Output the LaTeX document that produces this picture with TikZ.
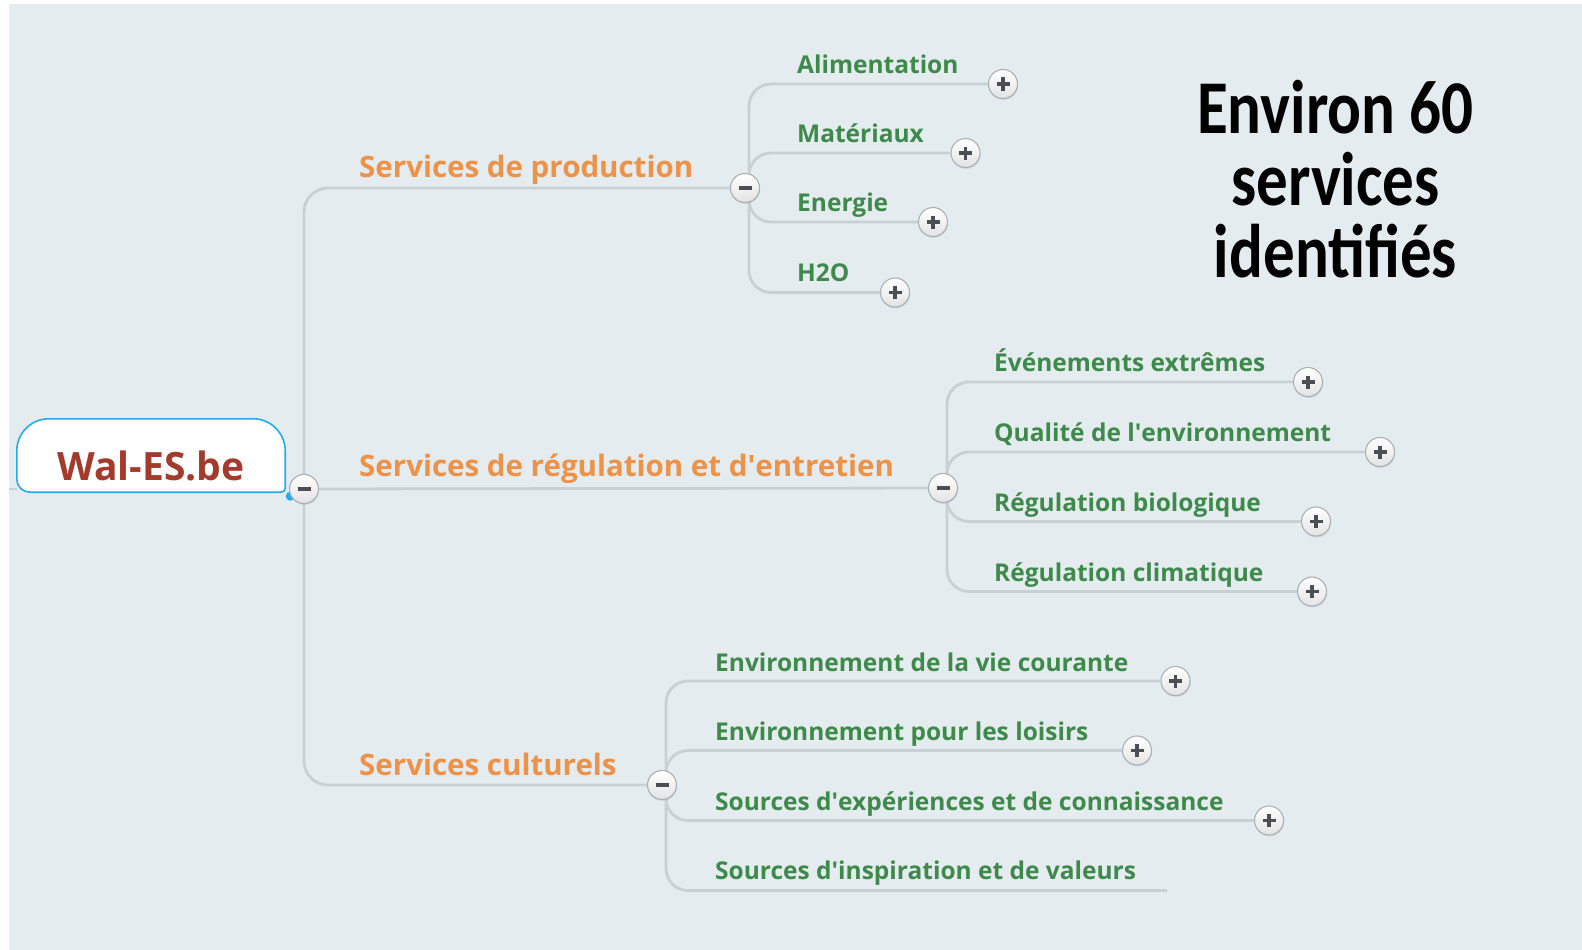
\documentclass[tikz,border=0pt]{standalone}
\usepackage{fontspec}
\setmainfont{Open Sans}
\newfontfamily\headfont{Carlito}[FakeStretch=0.83]
\usetikzlibrary{positioning, shadows}

\definecolor{MapBack}{RGB}{228,236,240}
\definecolor{LinkGrey}{RGB}{201,208,212}
\definecolor{BranchOrange}{RGB}{238,146,72}
\definecolor{LeafGreen}{RGB}{62,138,74}
\definecolor{RootRed}{RGB}{163,58,44}
\definecolor{RootBlue}{RGB}{38,170,238}
\definecolor{KnobEdge}{RGB}{170,176,180}
\definecolor{KnobSign}{RGB}{75,79,84}

\pgfdeclarelayer{back}
\pgfdeclarelayer{links}
\pgfsetlayers{back,links,main}

\newcommand{\apos}{\textquotesingle}

\begin{document}
\begin{tikzpicture}[
        x=1pt, y=-1pt,
        link/.style={draw=LinkGrey, line width=2.8pt},
        fan/.style={link, rounded corners=22pt},
        rootbox/.style={minimum width=268pt, minimum height=73pt, inner sep=0pt, text height=50pt, text=RootRed, font=\bfseries\fontsize{39}{44}\selectfont},
        rootframe/.style={draw=RootBlue, fill=white, line width=1.6pt},
        branch/.style={anchor=base west, inner sep=0pt, text=BranchOrange, font=\bfseries\fontsize{29.5}{34}\selectfont},
        leaf/.style={anchor=base west, inner sep=0pt, text=LeafGreen, font=\bfseries\fontsize{24.5}{29}\selectfont},
        knob/.style={circle, draw=KnobEdge, line width=1.1pt, minimum size=29pt, inner sep=0pt, top color=white, bottom color=gray!22, drop shadow={opacity=0.2, shadow xshift=0.6pt, shadow yshift=-1.4pt}},
        plus/.style={knob, path picture={\draw[KnobSign, line width=3.4pt] ([xshift=-6.5pt]path picture bounding box.center) -- ([xshift=6.5pt]path picture bounding box.center) ([yshift=-6.5pt]path picture bounding box.center) -- ([yshift=6.5pt]path picture bounding box.center);}},
        minus/.style={knob, path picture={\draw[KnobSign, line width=3.4pt] ([xshift=-6.5pt]path picture bounding box.center) -- ([xshift=6.5pt]path picture bounding box.center);}},
        headline/.style={anchor=base, inner sep=0pt, font=\headfont\bfseries\fontsize{76}{80}\selectfont}
    ]
        \useasboundingbox (0,0) rectangle (1582,950);

        % root and its knob
        \node[rootbox] (root) at (151,455.5) {Wal-ES.be};
        \coordinate (edge) at (9,489);
        \node[minus] (c0) at (304,489) {};

        % main branches
        \node[minus] (tgP) at (745,188) {};
        \node[branch] (prod) at (359,177) {Services de production};
        \node[minus] (tgR) at (943,488) {};
        \node[branch] (regul) at (359,476) {Services de régulation et d\apos entretien};
        \node[minus] (tgC) at (662,785) {};
        \node[branch] (cult) at (359,775) {Services culturels};

        % production
        \node[plus] (pAlim) at (1003,84) {};
        \node[leaf] (alim) at (797,73.5) {Alimentation};
        \node[plus] (pMat) at (965.5,153) {};
        \node[leaf] (mat) at (797,142) {Matériaux};
        \node[plus] (pEner) at (933,222) {};
        \node[leaf] (ener) at (797,211.5) {Energie};
        \node[plus] (pEau) at (895,292.5) {};
        \node[leaf] (eau) at (797,281.5) {H2O};

        % regulation
        \node[plus] (pExt) at (1308,382) {};
        \node[leaf] (ext) at (994,371) {Événements extrêmes};
        \node[plus] (pQual) at (1380,452) {};
        \node[leaf] (qual) at (994,441) {Qualité de l\apos environnement};
        \node[plus] (pBio) at (1316,521.5) {};
        \node[leaf] (bio) at (994,511) {Régulation biologique};
        \node[plus] (pClim) at (1312,591.5) {};
        \node[leaf] (clim) at (994,581) {Régulation climatique};

        % culture
        \node[plus] (pVie) at (1175.5,681) {};
        \node[leaf] (vie) at (715,671) {Environnement de la vie courante};
        \node[plus] (pLois) at (1137,750.5) {};
        \node[leaf] (lois) at (715,740.5) {Environnement pour les loisirs};
        \node[plus] (pExp) at (1269,820.5) {};
        \node[leaf] (exp) at (715,810) {Sources d\apos expériences et de connaissance};
        \coordinate (endInsp) at (1167,890.5);
        \node[leaf] (insp) at (715,879.5) {Sources d\apos inspiration et de valeurs};

        % headline
        \node[headline] (head1) at (1335.5,133) {Environ 60};
        \node[headline] (head2) at ([yshift=-72pt]head1.base) {services};
        \node[headline] (head3) at ([yshift=-72pt]head2.base) {identifiés};

        \begin{pgfonlayer}{back}
            \fill[MapBack] (9,4) rectangle (1582,950);
            \filldraw[rootframe] (root.south) [rounded corners=13pt] -- (root.south west) [rounded corners=32pt] -- (root.north west) -- (root.north east) [rounded corners=4pt] -- (root.south east) -- cycle;
            \fill[RootBlue] ([xshift=5pt, yshift=-4pt]root.south east) circle (4.5pt);
        \end{pgfonlayer}

        \begin{pgfonlayer}{links}
            \draw[link] (edge) -- (root.west |- edge);
            \draw[link, rounded corners=24pt] (c0.center) |- (tgP);
            \draw[link] (c0) -- (tgR);
            \draw[link, rounded corners=24pt] (c0.center) |- (tgC);

            \draw[fan] ([xshift=4pt]tgP.center) |- (pAlim);
            \draw[fan] ([xshift=4pt]tgP.center) |- (pMat);
            \draw[fan] ([xshift=4pt]tgP.center) |- (pEner);
            \draw[fan] ([xshift=4pt]tgP.center) |- (pEau);

            \draw[fan] ([xshift=4pt]tgR.center) |- (pExt);
            \draw[fan] ([xshift=4pt]tgR.center) |- (pQual);
            \draw[fan] ([xshift=4pt]tgR.center) |- (pBio);
            \draw[fan] ([xshift=4pt]tgR.center) |- (pClim);

            \draw[fan] ([xshift=4pt]tgC.center) |- (pVie);
            \draw[fan] ([xshift=4pt]tgC.center) |- (pLois);
            \draw[fan] ([xshift=4pt]tgC.center) |- (pExp);
            \draw[fan] ([xshift=4pt]tgC.center) |- (endInsp);
        \end{pgfonlayer}
    \end{tikzpicture}
\end{document}
